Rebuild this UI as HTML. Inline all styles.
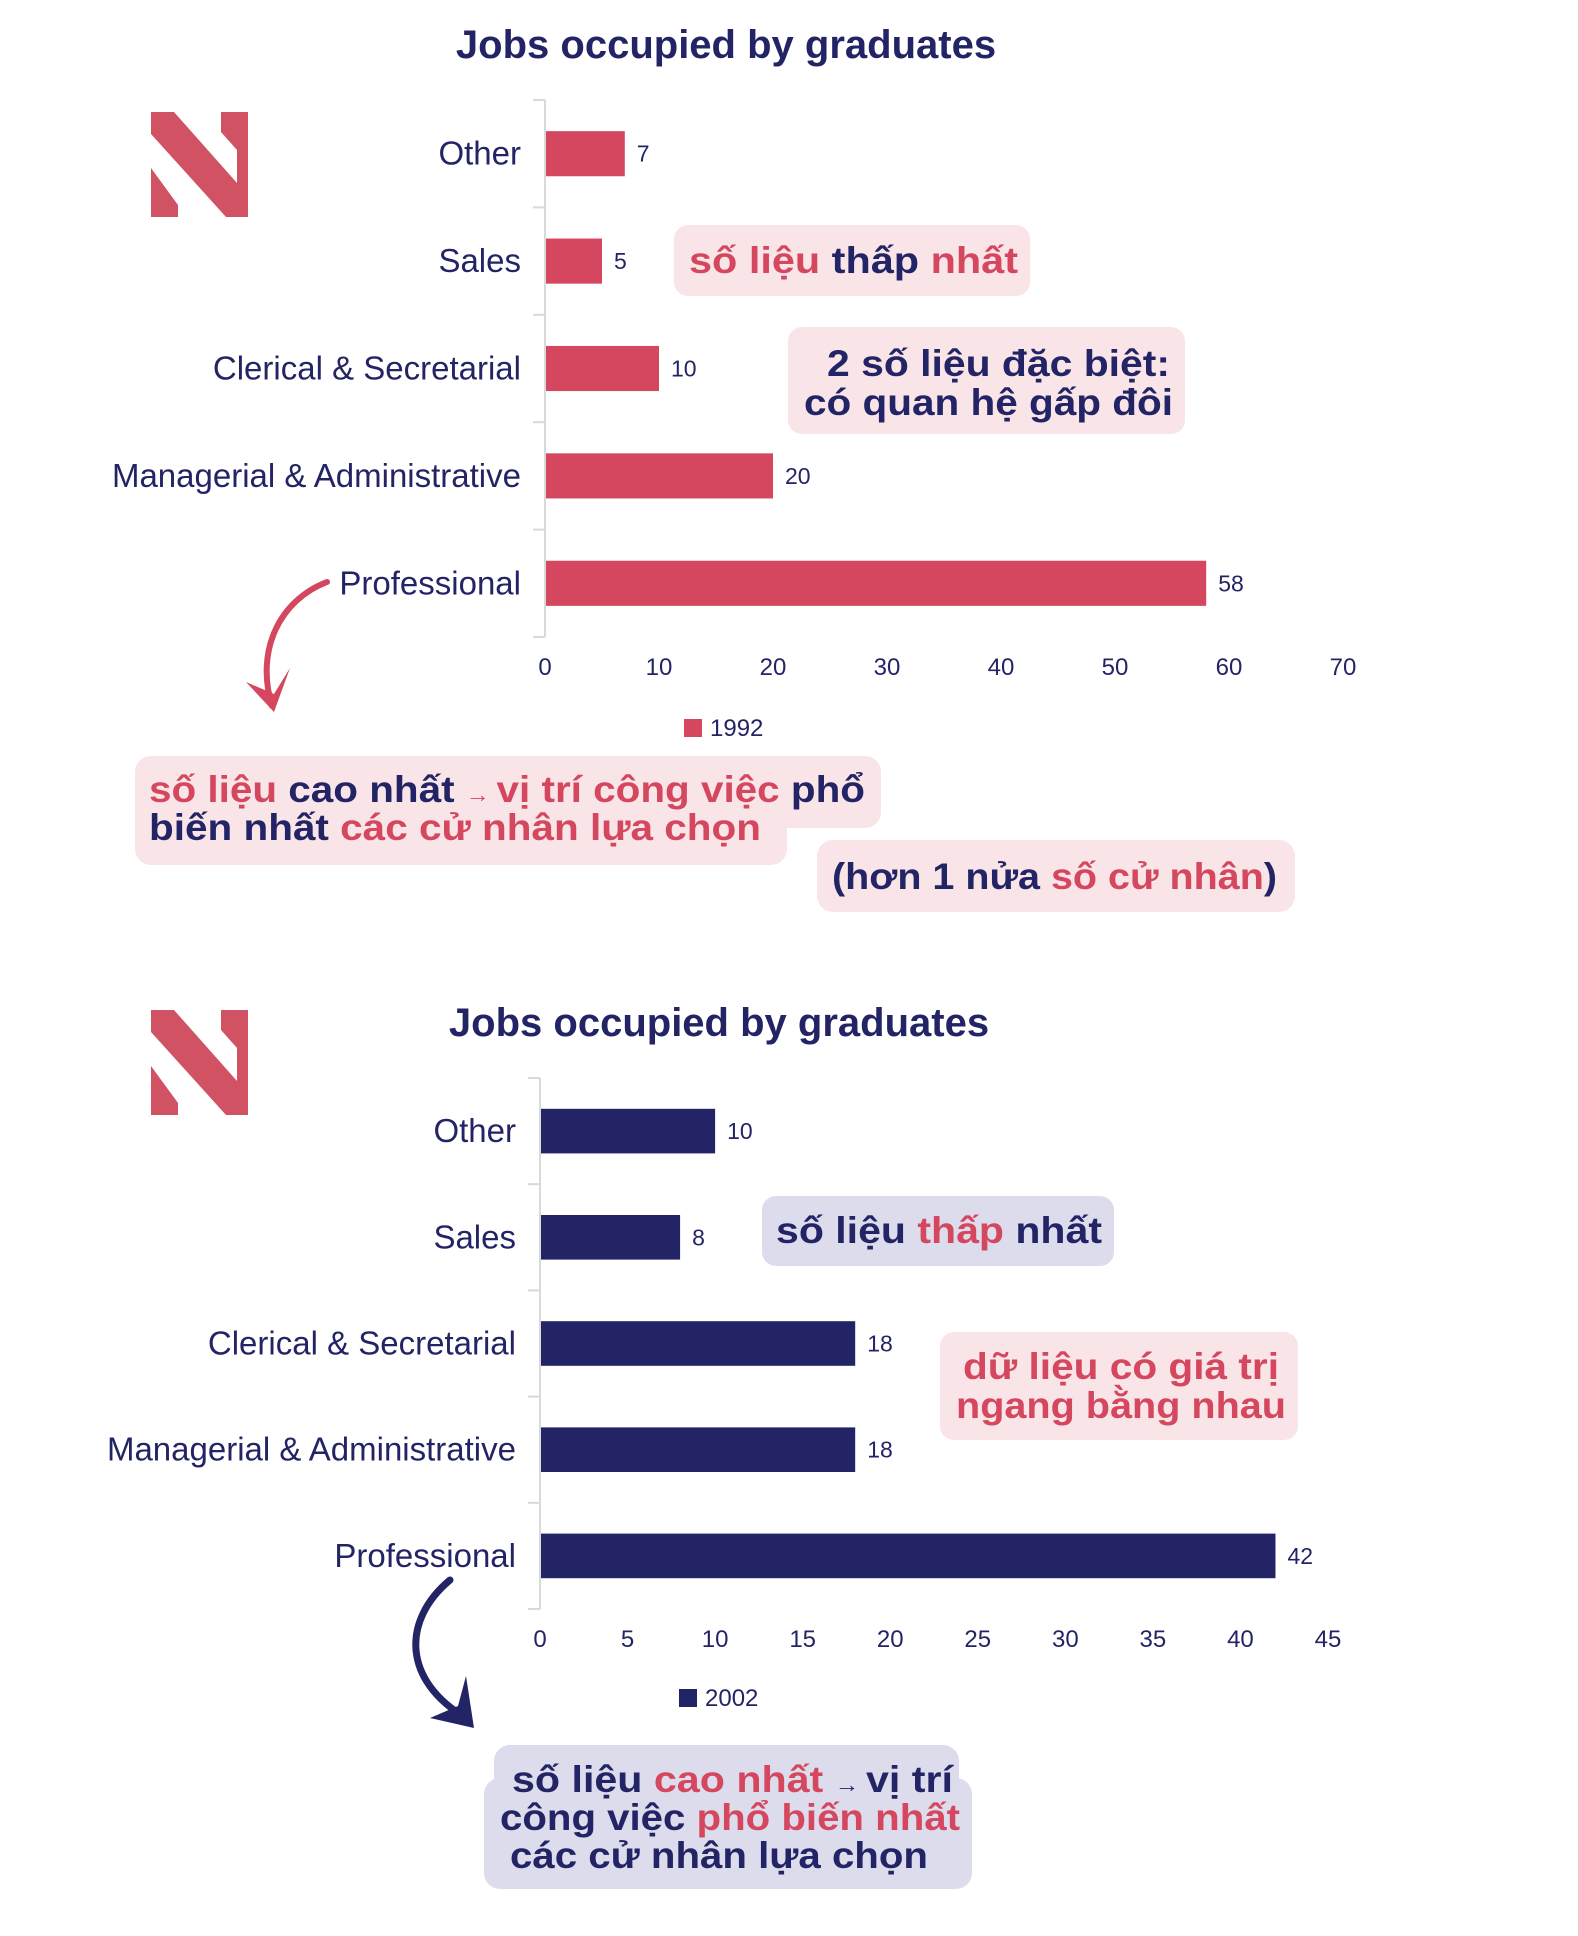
<!DOCTYPE html>
<html><head><meta charset="utf-8">
<style>
html,body{margin:0;padding:0;background:#fff;}
svg{display:block;font-family:"Liberation Sans","Noto Sans CJK SC",sans-serif;}
.cat{font-size:33px;fill:#232465;text-anchor:end;}
.tick{font-size:24px;fill:#232465;text-anchor:middle;}
.val{font-size:23px;fill:#232465;}
.title{font-size:40px;font-weight:bold;fill:#232465;text-anchor:middle;}
.ann{font-size:37px;font-weight:bold;}
.r{fill:#d4475e}.n{fill:#232465}
</style></head>
<body>
<svg id="root" width="1578" height="1936" viewBox="0 0 1578 1936" xmlns="http://www.w3.org/2000/svg">
  <g transform="translate(151,112)" fill="#d05263">
    <polygon points="0,0 23,0 86,71 86,38 70,20 70,0 97,0 97,105 75,105 0,22"/>
    <polygon points="0,56 27,93 27,105 0,105"/>
  </g>
  <g transform="translate(151,1010)" fill="#d05263">
    <polygon points="0,0 23,0 86,71 86,38 70,20 70,0 97,0 97,105 75,105 0,22"/>
    <polygon points="0,56 27,93 27,105 0,105"/>
  </g>

  <text class="title" x="726" y="58">Jobs occupied by graduates</text>
  <text class="title" x="719" y="1036">Jobs occupied by graduates</text>

  <g id="chart1"></g>
  <g id="chart2"></g>

  <g>
    <rect x="674" y="225" width="356" height="71" rx="14" fill="#f9e4e8"/>
    <text class="ann" x="689" y="273" textLength="329" lengthAdjust="spacingAndGlyphs"><tspan class="r">số liệu </tspan><tspan class="n">thấp </tspan><tspan class="r">nhất</tspan></text>
  </g>
  <g>
    <rect x="788" y="327" width="397" height="107" rx="14" fill="#f9e4e8"/>
    <text class="ann n" x="827" y="376" textLength="343" lengthAdjust="spacingAndGlyphs">2 số liệu đặc biệt:</text>
    <text class="ann n" x="804" y="415" textLength="369" lengthAdjust="spacingAndGlyphs">có quan hệ gấp đôi</text>
  </g>
  <path d="M327,582 C280,600 255,650 272,706" fill="none" stroke="#d4475e" stroke-width="6" stroke-linecap="round"/>
  <polygon points="246,682 274,712 290,668 274,694" fill="#d4475e"/>
  <g>
    <rect x="135" y="756" width="746" height="72" rx="16" fill="#f9e4e8"/>
    <rect x="135" y="794" width="652" height="71" rx="16" fill="#f9e4e8"/>
    <text class="ann" x="149" y="802" textLength="716" lengthAdjust="spacingAndGlyphs"><tspan class="r">số liệu </tspan><tspan class="n">cao nhất </tspan><tspan class="r" style="font-size:22px">→ </tspan><tspan class="r">vị trí công việc </tspan><tspan class="n">phổ</tspan></text>
    <text class="ann" x="149" y="840" textLength="612" lengthAdjust="spacingAndGlyphs"><tspan class="n">biến nhất </tspan><tspan class="r">các cử nhân lựa chọn</tspan></text>
  </g>
  <g>
    <rect x="817" y="840" width="478" height="72" rx="16" fill="#f9e4e8"/>
    <text class="ann" x="832" y="889" textLength="445" lengthAdjust="spacingAndGlyphs"><tspan class="n">(hơn 1 nửa </tspan><tspan class="r">số cử nhân</tspan><tspan class="n">)</tspan></text>
  </g>

  <g>
    <rect x="762" y="1196" width="352" height="70" rx="14" fill="#dcdcec"/>
    <text class="ann" x="776" y="1243" textLength="326" lengthAdjust="spacingAndGlyphs"><tspan class="n">số liệu </tspan><tspan class="r">thấp </tspan><tspan class="n">nhất</tspan></text>
  </g>
  <g>
    <rect x="940" y="1332" width="358" height="108" rx="14" fill="#f9e4e8"/>
    <text class="ann r" x="963" y="1379" textLength="316" lengthAdjust="spacingAndGlyphs">dữ liệu có giá trị</text>
    <text class="ann r" x="956" y="1418" textLength="330" lengthAdjust="spacingAndGlyphs">ngang bằng nhau</text>
  </g>
  <path d="M450,1580 C402,1620 402,1680 466,1718" fill="none" stroke="#232465" stroke-width="7" stroke-linecap="round"/>
  <polygon points="430,1718 474,1728 466,1676 458,1706" fill="#232465"/>
  <g>
    <rect x="494" y="1745" width="465" height="60" rx="16" fill="#dcdcec"/>
    <rect x="484" y="1778" width="488" height="111" rx="16" fill="#dcdcec"/>
    <text class="ann" x="512" y="1792" textLength="441" lengthAdjust="spacingAndGlyphs"><tspan class="n">số liệu </tspan><tspan class="r">cao nhất </tspan><tspan class="n" style="font-size:22px">→ </tspan><tspan class="n">vị trí</tspan></text>
    <text class="ann" x="500" y="1830" textLength="460" lengthAdjust="spacingAndGlyphs"><tspan class="n">công việc </tspan><tspan class="r">phổ biến nhất</tspan></text>
    <text class="ann n" x="510" y="1868" textLength="418" lengthAdjust="spacingAndGlyphs">các cử nhân lựa chọn</text>
  </g>
</svg>
<script>
const categories = ["Other","Sales","Clerical & Secretarial","Managerial & Administrative","Professional"];
const values1992 = [7,5,10,20,58];
const values2002 = [10,8,18,18,42];
const ticks1992 = [0,10,20,30,40,50,60,70];
const ticks2002 = [0,5,10,15,20,25,30,35,40,45];
const NS="http://www.w3.org/2000/svg";
function mk(tag,attrs,parent){const e=document.createElementNS(NS,tag);for(const k in attrs)e.setAttribute(k,attrs[k]);parent.appendChild(e);return e;}
function drawChart(g,vals,ticks,cfg){
  const xMax=ticks[ticks.length-1];
  const xs=v=>cfg.x0+(v/xMax)*(cfg.x1-cfg.x0);
  const band=(cfg.yBot-cfg.yTop)/categories.length;
  const axis=mk('line',{x1:cfg.x0,y1:cfg.yTop,x2:cfg.x0,y2:cfg.yBot,stroke:'#d9d9d9','stroke-width':2},g);
  
  
  for(let i=0;i<=categories.length;i++){
    const t=mk('line',{x1:cfg.x0-12,y1:cfg.yTop+i*band,x2:cfg.x0,y2:cfg.yTop+i*band,stroke:'#d9d9d9','stroke-width':2},g);
    
    
  }
  categories.forEach((c,i)=>{
    const cy=cfg.yTop+band*(i+0.5);
    const bh=band*0.42;
    const r=mk('rect',{x:cfg.x0+1,y:cy-bh/2,width:xs(vals[i])-cfg.x0-1,height:bh,fill:cfg.color},g);
    
    
    const l=mk('text',{x:cfg.x0-24,y:cy+11,class:'cat'},g);l.textContent=c;
    
    
    const v=mk('text',{x:xs(vals[i])+12,y:cy+8,class:'val'},g);v.textContent=vals[i];
    
    
  });
  ticks.forEach(t=>{
    const tx=mk('text',{x:xs(t),y:cfg.tickY,class:'tick'},g);tx.textContent=t;
    
    
  });
  const sq=mk('rect',{x:cfg.legX,y:cfg.legY-17,width:18,height:18,fill:cfg.color},g);
  
  
  const lt=mk('text',{x:cfg.legX+26,y:cfg.legY,class:'tick',style:'text-anchor:start'},g);lt.textContent=cfg.legend;
  
  
}
drawChart(document.getElementById('chart1'),values1992,ticks1992,{x0:545,x1:1343,yTop:100,yBot:637,tickY:675,color:'#d4475e',legX:684,legY:736,legend:'1992'});
drawChart(document.getElementById('chart2'),values2002,ticks2002,{x0:540,x1:1328,yTop:1078,yBot:1609,tickY:1647,color:'#232465',legX:679,legY:1706,legend:'2002'});
</script>
</body></html>
